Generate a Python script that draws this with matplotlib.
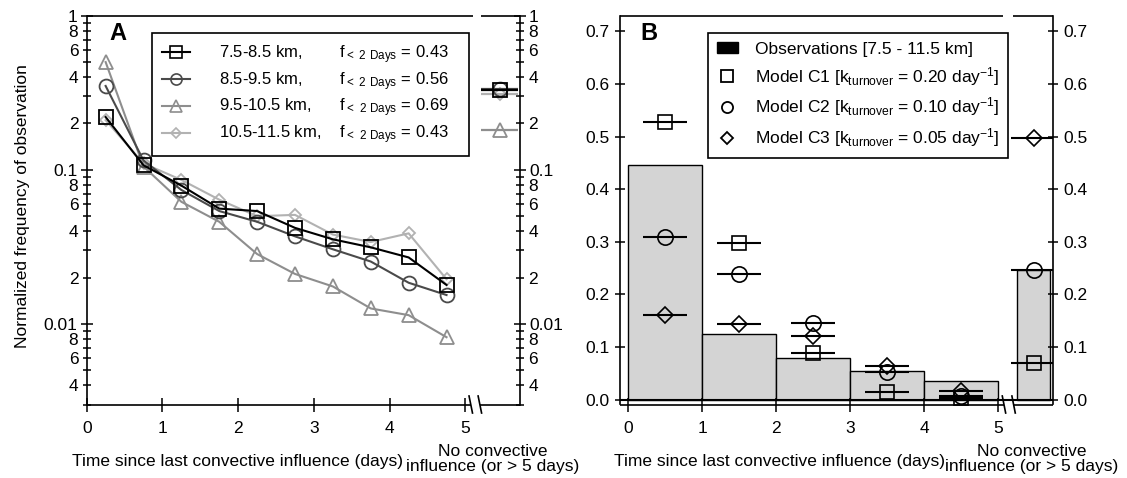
import matplotlib
matplotlib.use('Agg')
import matplotlib.pyplot as plt
from matplotlib.lines import Line2D
from matplotlib.patches import Patch
from matplotlib.ticker import FuncFormatter, LogLocator
import numpy as np

plt.rcParams['font.family'] = ['Liberation Sans', 'DejaVu Sans']
plt.rcParams['mathtext.default'] = 'regular'
plt.rcParams['font.size'] = 12.5

# ---- panel A: normalized frequency per altitude band (log scale)
days_a = [0.25, 0.75, 1.25, 1.75, 2.25, 2.75, 3.25, 3.75, 4.25, 4.75]
nc_pos_a = 5.45
band_labels = ['7.5-8.5 km,', '8.5-9.5 km,', '9.5-10.5 km,', '10.5-11.5 km,']
f_lt2 = [0.43, 0.56, 0.69, 0.43]
freq_75_85 = [0.22, 0.107, 0.079, 0.056, 0.054, 0.042, 0.0354, 0.0314, 0.027, 0.0179]
freq_85_95 = [0.35, 0.115, 0.074, 0.054, 0.046, 0.037, 0.0305, 0.0254, 0.0185, 0.0154]
freq_95_105 = [0.50, 0.105, 0.062, 0.046, 0.0284, 0.0211, 0.0175, 0.0126, 0.0114, 0.0082]
freq_105_115 = [0.21, 0.11, 0.086, 0.064, 0.050, 0.051, 0.038, 0.034, 0.0387, 0.0195]
nc_freq = [0.33, 0.335, 0.18, 0.31]

# ---- panel B: observations vs models
bins_b = [0.5, 1.5, 2.5, 3.5, 4.5]
nc_pos_b = 5.48
obs = [0.446, 0.125, 0.079, 0.054, 0.035]
obs_nc = 0.247
c1 = [0.528, 0.298, 0.089, 0.014, 0.002]
c1_nc = 0.070
c2 = [0.310, 0.238, 0.146, 0.052, 0.006]
c2_nc = 0.247
c3 = [0.160, 0.144, 0.120, 0.064, 0.016]
c3_nc = 0.497
model_labels = ['Model C1 [k$_{turnover}$ = 0.20 day$^{-1}$]',
                'Model C2 [k$_{turnover}$ = 0.10 day$^{-1}$]',
                'Model C3 [k$_{turnover}$ = 0.05 day$^{-1}$]']

W, H = 1127, 478
fig = plt.figure(figsize=(W / 100, H / 100), dpi=100)


def px(x, y):
    return x / W, 1 - y / H


def broken_frame(ax, xmin, xmax, bot_gap, top_gap):
    for s in ['top', 'bottom']:
        ax.spines[s].set_visible(False)
    tr = ax.get_xaxis_transform()
    kw = dict(transform=tr, color='black', lw=1.2, clip_on=False, solid_capstyle='butt')
    ax.plot([xmin, bot_gap[0]], [0, 0], **kw)
    ax.plot([bot_gap[1], xmax], [0, 0], **kw)
    ax.plot([xmin, top_gap[0]], [1, 1], **kw)
    ax.plot([top_gap[1], xmax], [1, 1], **kw)
    for xb in bot_gap:
        ax.plot([xb - 0.025, xb + 0.025], [0.024, -0.024], **kw)


# ================= panel A
axa = fig.add_axes([86.7 / W, (H - 404.5) / H, 433.3 / W, 388.8 / H])
xa_max = 5.72
series = [freq_75_85, freq_85_95, freq_95_105, freq_105_115]
markers = ['s', 'o', '^', 'D']
msizes = [10, 10, 10.5, 6.5]
colors = ['black', '#4a4a4a', '#8e8e8e', '#b2b2b2']
handles = []
for i in range(4):
    z = 10 - i
    axa.plot(days_a, series[i], color=colors[i], marker=markers[i], ms=msizes[i],
             mfc='none', mec=colors[i], mew=1.3, lw=1.5, zorder=z)
    axa.errorbar([nc_pos_a], [nc_freq[i]], xerr=0.24, fmt=markers[i], color=colors[i],
                 ms=msizes[i], mfc='none', mew=1.3, elinewidth=1.6, capsize=0, zorder=z)
    pad = ' ' * [8, 8, 6, 4][i]
    lab = band_labels[i] + pad + r'f$_{{<}\ 2\ Days}$ = %.2f   ' % f_lt2[i]
    handles.append(Line2D([], [], color=colors[i], marker=markers[i], ms=msizes[i] * 0.8,
                          mfc='none', mec=colors[i], mew=1.2, lw=1.5, label=lab))

axa.set_yscale('log')
axa.set_ylim(0.003, 1)
axa.set_xlim(0, xa_max)
axa.set_xticks([0, 1, 2, 3, 4, 5])
axa.yaxis.set_major_locator(LogLocator(base=10, numticks=10))
axa.yaxis.set_minor_locator(LogLocator(base=10, subs=np.arange(2, 10), numticks=20))
axa.yaxis.set_major_formatter(FuncFormatter(lambda v, p: '%g' % v))


def minor_fmt(v, p):
    m = int(round(v / 10 ** np.floor(np.log10(v) + 1e-9)))
    return str(m) if m in (2, 4, 6, 8) else ''


axa.yaxis.set_minor_formatter(FuncFormatter(minor_fmt))
axa.tick_params(which='both', direction='inout', right=True, labelright=True,
                width=1.1, labelsize=12.5)
axa.tick_params(axis='y', which='major', length=9, pad=2)
axa.tick_params(axis='y', which='minor', length=6, pad=3)
axa.tick_params(axis='x', which='major', length=10, pad=7)
for s in ['left', 'right']:
    axa.spines[s].set_linewidth(1.2)
broken_frame(axa, 0, xa_max, (5.07, 5.19), (5.10, 5.20))

leg = axa.legend(handles=handles, loc='upper left', bbox_to_anchor=(0.15, 0.955),
                 borderaxespad=0, fontsize=12, handlelength=1.7, handletextpad=1.75,
                 labelspacing=0.25, frameon=True, fancybox=False, framealpha=1,
                 edgecolor='black', borderpad=0.6)
leg.get_frame().set_linewidth(1.2)
axa.text(0.071, 0.955, 'A', transform=axa.transAxes, fontsize=17, fontweight='bold',
         ha='center', va='center')

fig.text(*px(23, 206), 'Normalized frequency of observation', rotation=90,
         ha='center', va='center')
fig.text(*px(237.5, 461.7), 'Time since last convective influence (days)',
         ha='center', va='center')
fig.text(*px(493, 459), 'No convective\ninfluence (or > 5 days)', ha='center',
         va='center', linespacing=0.92)

# ================= panel B
axb = fig.add_axes([620 / W, (H - 404.5) / H, 432.8 / W, 388.8 / H])
xb_min, xb_max = -0.11, 5.74
axb.bar(bins_b, obs, width=1.0, color='#d4d4d4', edgecolor='black', lw=1.0, zorder=1)
axb.bar([nc_pos_b], [obs_nc], width=0.45, color='#d4d4d4', edgecolor='black', lw=1.0,
        zorder=1)
axb.axhline(0, color='black', lw=1.5, zorder=2)
model_vals = [c1 + [c1_nc], c2 + [c2_nc], c3 + [c3_nc]]
mk_b = ['s', 'o', 'D']
ms_b = [10, 11, 8]
for i in range(3):
    axb.errorbar(bins_b + [nc_pos_b], model_vals[i], xerr=0.3, fmt=mk_b[i], color='black',
                 ms=ms_b[i], mfc='none', mew=1.2, elinewidth=1.5, capsize=0, zorder=5)

axb.set_xlim(xb_min, xb_max)
axb.set_ylim(-0.0095, 0.73)
axb.set_xticks([0, 1, 2, 3, 4, 5])
axb.set_yticks(np.arange(0, 0.71, 0.1))
axb.yaxis.set_major_formatter(FuncFormatter(lambda v, p: '%.1f' % v))
axb.tick_params(which='both', direction='inout', right=True, labelright=True,
                width=1.1, labelsize=12.5)
axb.tick_params(axis='y', length=7, pad=4)
axb.tick_params(axis='x', length=10, pad=7)
for s in ['left', 'right']:
    axb.spines[s].set_linewidth(1.2)
broken_frame(axb, xb_min, xb_max, (5.08, 5.21), (5.07, 5.20))

hb = [Patch(facecolor='black', edgecolor='black', label='Observations [7.5 - 11.5 km]')]
for i in range(3):
    hb.append(Line2D([], [], ls='none', marker=mk_b[i], ms=8 if i < 2 else 6.5,
                     mfc='none', mec='black', mew=1.3, label=model_labels[i]))
legb = axb.legend(handles=hb, loc='upper left', bbox_to_anchor=(0.204, 0.955),
                  borderaxespad=0, fontsize=12.5, handlelength=1.2, handleheight=0.6,
                  handletextpad=1.0, labelspacing=0.45, frameon=True, fancybox=False,
                  framealpha=1, edgecolor='black', borderpad=0.5)
legb.get_frame().set_linewidth(1.2)
axb.text(0.067, 0.955, 'B', transform=axb.transAxes, fontsize=17, fontweight='bold',
         ha='center', va='center')

fig.text(*px(779, 461.7), 'Time since last convective influence (days)',
         ha='center', va='center')
fig.text(*px(1032, 459), 'No convective\ninfluence (or > 5 days)', ha='center',
         va='center', linespacing=0.92)

fig.savefig('out.png', dpi=100, facecolor='white')
